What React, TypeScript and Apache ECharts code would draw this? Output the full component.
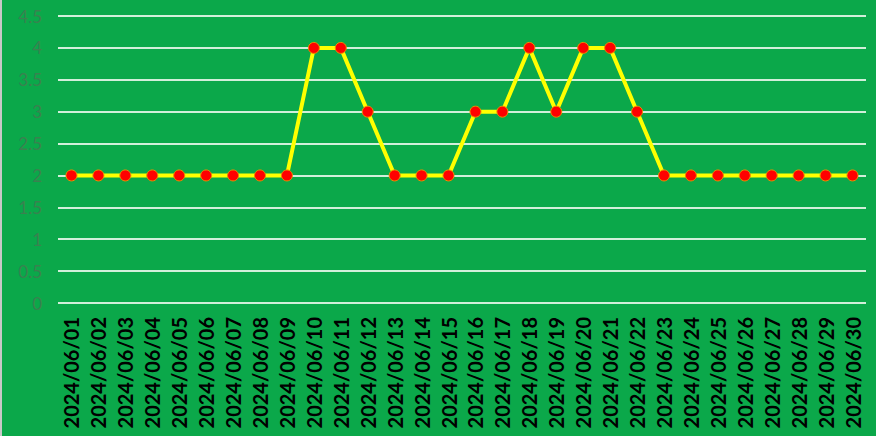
import React, { useEffect, useRef } from "react";
import * as echarts from "echarts";

const categories: string[] = Array.from({ length: 30 }, (_, i) => `2024/06/${String(i + 1).padStart(2, "0")}`);
const values: number[] = [2, 2, 2, 2, 2, 2, 2, 2, 2, 4, 4, 3, 2, 2, 2, 3, 3, 4, 3, 4, 4, 3, 2, 2, 2, 2, 2, 2, 2, 2];
const yMin = 0;
const yMax = 4.5;
const yStep = 0.5;

export default function App() {
  const ref = useRef<HTMLDivElement>(null);
  useEffect(() => {
    if (!ref.current) return;
    const chart = echarts.init(ref.current, undefined, { renderer: "svg" });
    chart.setOption({
      animation: false,
      backgroundColor: "#0BA84A",
      grid: { left: 56, right: 10, top: 16, bottom: 133, containLabel: false },
      xAxis: {
        type: "category",
        data: categories,
        boundaryGap: true,
        axisLine: { show: false },
        axisTick: { show: false },
        axisLabel: {
          rotate: 90,
          interval: 0,
          color: "#000",
          fontWeight: "bold",
          fontSize: 20,
          fontFamily: "Lato",
          margin: 14,
        },
      },
      yAxis: {
        type: "value",
        min: yMin,
        max: yMax,
        interval: yStep,
        axisLine: { show: false },
        axisTick: { show: false },
        axisLabel: {
          color: "#3A8150",
          fontSize: 17,
          fontFamily: "Lato",
          margin: 16,
        },
        splitLine: { lineStyle: { color: "#D2EFDA", width: 2 } },
      },
      series: [
        {
          type: "line",
          data: values,
          symbol: "circle",
          symbolSize: 11,
          lineStyle: { color: "#FFFF00", width: 4 },
          itemStyle: { color: "#FF0000", borderColor: "#F08C00", borderWidth: 1 },
        },
      ],
    });
    return () => chart.dispose();
  }, []);
  return (
    <div style={{ position: "fixed", left: 0, top: 0, width: 876, height: 436, boxSizing: "border-box", borderLeft: "2px solid #C8C8C8" }}>
      <div ref={ref} style={{ width: 874, height: 436 }} />
    </div>
  );
}
